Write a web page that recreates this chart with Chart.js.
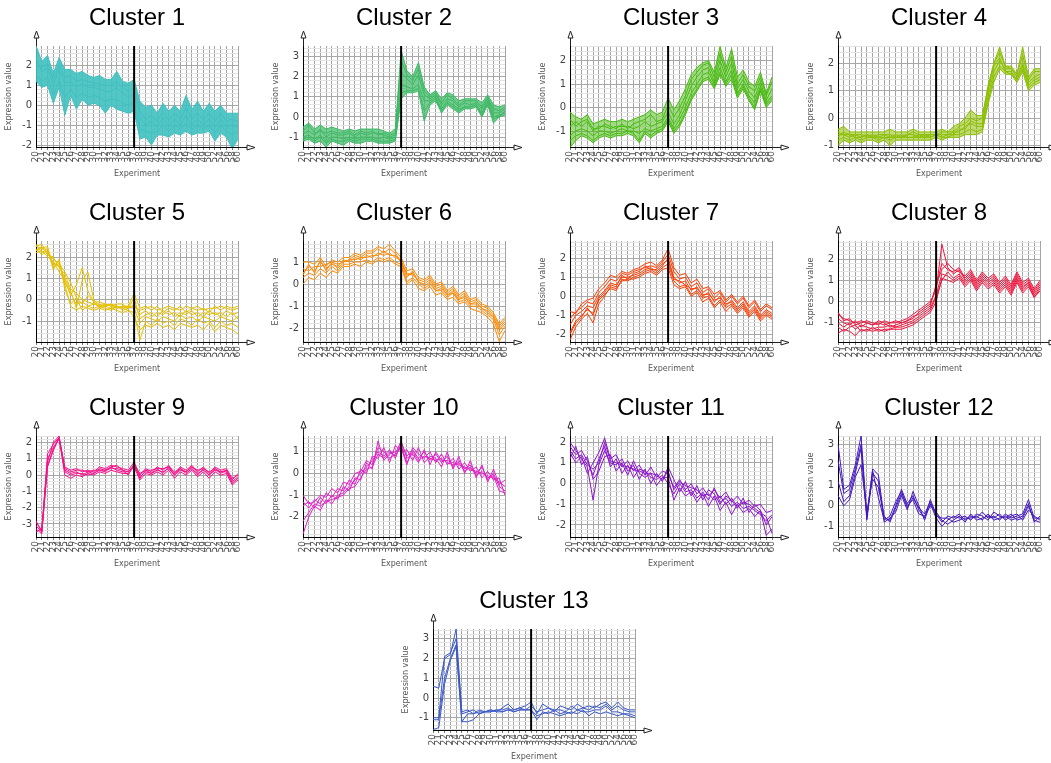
<!DOCTYPE html>
<html><head><meta charset="utf-8">
<script src="https://cdn.jsdelivr.net/npm/chart.js@4.4.0/dist/chart.umd.min.js"></script>
<style>
html,body{margin:0;padding:0;background:#fff;width:1051px;height:763px;overflow:hidden;}
.panel{position:absolute;}
</style></head><body>
<script>
// ---------- DATA ----------
const experimentLabels = ['20','21','22','23','24','25','26','27','28','29','30','31','32','33','34','35','36','37','38','39','40','41','42','43','44','45','46','47','48','49','50','52','54','56','58','60'];
const dividerLabel = '37';
const clusterTitles = ['Cluster 1','Cluster 2','Cluster 3','Cluster 4','Cluster 5','Cluster 6','Cluster 7','Cluster 8','Cluster 9','Cluster 10','Cluster 11','Cluster 12','Cluster 13'];
const clusterColors = ['#40c0c0','#3cb964','#46bb0e','#8cc000','#e6c000','#ff8a00','#ff3c00','#f0143c','#f5108a','#e020c8','#8c14cc','#4418c0','#3c5ac8'];
const yMin = [-2.1,-1.49,-1.68,-1.05,-1.98,-2.62,-2.4,-1.9,-3.8,-2.93,-2.58,-1.52,-1.62];
const yMax = [2.98,3.52,2.62,2.63,2.75,1.95,2.9,2.85,2.4,1.73,2.3,3.4,3.5];

const c1Upper = [3.0,2.2,2.5,1.6,2.4,1.8,1.8,1.6,1.7,1.5,1.4,1.5,1.3,1.3,1.7,1.2,1.1,1.3,0.2,-0.1,0.0,-0.4,0.1,-0.3,0.0,-0.3,0.5,-0.2,0.2,-0.3,0.1,-0.3,0.0,-0.4,-0.4,-0.4];
const c1Lower = [1.2,0.9,1.0,0.1,0.9,-0.5,0.5,-0.2,0.3,0.0,0.1,0.0,-0.4,0.0,-0.2,-0.3,-0.4,-0.3,-1.7,-1.6,-2.0,-1.5,-1.5,-1.6,-1.4,-1.5,-1.3,-1.5,-1.4,-1.4,-1.3,-1.8,-1.4,-1.6,-2.2,-1.7];
const c1Lines = [
 [2.4,1.7,1.9,1.0,1.8,1.1,1.2,0.9,1.1,0.9,0.9,0.8,0.7,0.7,0.9,0.6,0.4,0.6,-0.6,-1.0,-0.8,-1.1,-0.6,-1.1,-0.7,-1.0,-0.5,-1.0,-0.7,-1.0,-0.7,-1.1,-0.7,-1.1,-1.0,-1.1],
 [1.6,1.2,1.4,0.5,1.3,0.4,0.8,0.4,0.6,0.4,0.5,0.4,0.2,0.3,0.3,0.1,0.0,0.2,-1.2,-1.3,-1.4,-1.3,-1.0,-1.3,-1.0,-1.2,-0.9,-1.2,-1.0,-1.2,-1.0,-1.4,-1.0,-1.3,-1.5,-1.3],
 [2.0,1.9,2.1,1.3,2.0,1.4,1.5,1.2,1.3,1.2,1.1,1.1,1.0,1.0,1.2,0.9,0.7,0.9,-0.3,-0.7,-0.5,-0.8,-0.3,-0.8,-0.4,-0.7,-0.1,-0.7,-0.4,-0.7,-0.4,-0.8,-0.4,-0.8,-0.7,-0.8]
];

const c2Upper = [-0.5,-0.3,-0.6,-0.4,-0.6,-0.5,-0.6,-0.7,-0.6,-0.7,-0.6,-0.6,-0.6,-0.6,-0.7,-0.8,-0.6,3.3,2.3,2.0,2.7,1.5,1.1,1.3,0.9,1.2,1.1,0.8,0.9,0.9,0.9,0.7,1.1,0.6,0.5,0.6];
const c2Lower = [-1.2,-1.1,-1.3,-1.2,-1.5,-1.2,-1.3,-1.4,-1.2,-1.3,-1.3,-1.2,-1.2,-1.3,-1.3,-1.3,-1.2,0.9,1.2,1.2,1.3,-0.2,0.6,0.8,0.2,0.6,0.4,0.2,0.4,0.4,0.5,0.0,0.6,-0.3,0.0,0.1];
const c2Lines = [
 [-0.8,-0.7,-0.9,-0.6,-1.0,-0.8,-0.9,-0.9,-0.8,-1.0,-0.8,-0.9,-0.8,-0.8,-0.9,-1.0,-0.9,2.2,1.9,1.6,2.1,1.1,0.9,1.1,0.6,0.9,0.8,0.5,0.7,0.6,0.7,0.4,0.9,0.2,0.2,0.4],
 [-1.0,-0.9,-1.1,-0.9,-1.2,-1.0,-1.0,-1.1,-1.0,-1.1,-1.0,-1.0,-1.0,-1.1,-1.0,-1.1,-1.0,1.6,1.5,1.4,1.6,0.8,0.8,1.0,0.4,0.8,0.6,0.4,0.5,0.5,0.6,0.2,0.8,0.0,0.1,0.2],
 [-0.7,-0.4,-0.8,-0.7,-0.8,-0.7,-0.8,-0.8,-0.7,-0.9,-0.7,-0.8,-0.7,-0.9,-0.8,-0.9,-0.8,2.8,2.1,1.8,2.4,1.3,1.0,1.2,0.7,1.1,0.9,0.6,0.8,0.8,0.8,0.5,1.0,0.4,0.3,0.5],
 [-1.1,-1.0,-1.2,-1.0,-1.3,-1.1,-1.2,-1.2,-1.1,-1.2,-1.1,-1.1,-1.1,-1.2,-1.2,-1.2,-1.1,1.2,1.3,1.3,1.4,0.3,0.7,0.9,0.3,0.7,0.5,0.3,0.5,0.5,0.6,0.1,0.7,-0.1,0.0,0.3]
];

const c3Upper = [-0.2,-0.4,-0.5,-0.3,-0.7,-0.6,-0.5,-0.6,-0.6,-0.5,-0.6,-0.5,-0.4,-0.3,-0.1,-0.3,-0.2,0.4,-0.1,0.3,0.8,1.4,1.7,1.9,2.0,1.5,2.6,1.7,2.5,1.3,1.6,1.1,0.9,1.5,0.6,1.3];
const c3Lower = [-1.7,-1.4,-1.2,-1.3,-1.5,-1.3,-1.2,-1.3,-1.2,-1.2,-1.1,-1.2,-1.5,-1.1,-1.3,-1.1,-1.0,-0.6,-1.1,-0.8,-0.3,0.3,0.7,1.1,1.2,0.8,1.4,0.9,1.2,0.4,0.8,0.3,-0.1,0.7,0.0,0.3];
const c3Lines = [
 [-0.8,-0.6,-0.8,-0.6,-1.0,-0.8,-0.8,-0.9,-0.8,-0.8,-0.8,-0.9,-0.8,-0.6,-0.8,-0.7,-0.6,-0.2,-0.7,-0.3,0.3,0.9,1.3,1.6,1.7,1.1,2.0,1.3,1.9,0.8,1.2,0.7,0.4,1.1,0.3,0.8],
 [-1.2,-1.0,-0.9,-1.0,-1.2,-1.0,-1.0,-1.1,-1.0,-0.9,-1.0,-1.0,-1.1,-0.9,-1.0,-0.9,-0.8,-0.4,-0.9,-0.5,0.0,0.6,1.0,1.4,1.5,1.0,1.7,1.1,1.6,0.6,1.0,0.5,0.2,0.9,0.2,0.5],
 [-0.5,-0.8,-0.6,-0.5,-0.9,-0.9,-0.7,-0.8,-0.9,-0.7,-0.9,-0.7,-0.6,-0.5,-0.3,-0.6,-0.5,0.1,-0.4,0.0,0.5,1.2,1.5,1.8,1.9,1.3,2.3,1.5,2.2,1.0,1.4,0.9,0.7,1.3,0.5,1.1],
 [-1.4,-1.2,-1.1,-1.2,-1.4,-1.2,-1.1,-1.2,-1.1,-1.1,-1.0,-1.1,-1.4,-1.0,-1.2,-1.0,-0.9,-0.5,-1.0,-0.7,-0.2,0.4,0.8,1.2,1.3,0.9,1.5,1.0,1.4,0.5,0.9,0.4,0.0,0.8,0.1,0.4]
];

const c4Upper = [-0.4,-0.3,-0.5,-0.5,-0.5,-0.5,-0.5,-0.5,-0.5,-0.4,-0.5,-0.5,-0.5,-0.4,-0.5,-0.5,-0.5,-0.5,-0.4,-0.5,-0.3,-0.2,0.0,0.3,0.1,0.1,1.1,2.0,2.6,1.9,1.9,1.6,2.6,1.5,1.8,1.8];
const c4Lower = [-1.0,-0.8,-0.9,-0.8,-0.9,-0.8,-0.8,-0.9,-0.8,-1.0,-0.8,-0.8,-0.8,-0.8,-0.8,-0.8,-0.8,-0.7,-0.8,-0.7,-0.7,-0.7,-0.6,-0.6,-0.6,-0.5,0.5,1.3,1.8,1.6,1.6,1.3,1.7,1.0,1.2,1.3];
const c4Lines = [
 [-0.6,-0.6,-0.7,-0.6,-0.7,-0.6,-0.7,-0.7,-0.6,-0.7,-0.6,-0.7,-0.6,-0.6,-0.7,-0.6,-0.7,-0.6,-0.6,-0.6,-0.5,-0.5,-0.3,-0.2,-0.3,-0.3,0.8,1.7,2.1,1.8,1.8,1.5,2.0,1.3,1.5,1.6],
 [-0.7,-0.5,-0.6,-0.7,-0.8,-0.7,-0.6,-0.7,-0.7,-0.8,-0.7,-0.6,-0.7,-0.7,-0.6,-0.7,-0.6,-0.6,-0.7,-0.6,-0.6,-0.4,-0.4,-0.1,-0.2,-0.2,1.0,1.9,2.2,1.7,1.7,1.4,1.8,1.2,1.4,1.5],
 [-0.5,-0.6,-0.6,-0.6,-0.6,-0.7,-0.7,-0.6,-0.6,-0.6,-0.7,-0.7,-0.6,-0.5,-0.6,-0.6,-0.6,-0.6,-0.5,-0.5,-0.5,-0.3,-0.2,0.0,-0.1,0.0,1.2,2.0,2.4,1.9,1.8,1.6,2.3,1.4,1.7,1.7],
 [-0.8,-0.7,-0.8,-0.7,-0.7,-0.6,-0.7,-0.8,-0.7,-0.7,-0.7,-0.7,-0.7,-0.7,-0.7,-0.7,-0.7,-0.6,-0.7,-0.7,-0.6,-0.6,-0.5,-0.4,-0.5,-0.4,0.6,1.5,1.9,1.7,1.6,1.4,1.9,1.1,1.3,1.4]
];

const c5Lines = [
 [2.5,2.4,2.2,1.6,1.8,0.8,0.3,-0.2,-0.1,-0.3,-0.2,-0.3,-0.2,-0.3,-0.4,-0.3,-0.4,-0.2,-0.7,-0.5,-0.8,-0.6,-0.7,-0.5,-0.8,-0.6,-0.7,-0.5,-0.8,-0.6,-0.7,-0.6,-0.8,-0.5,-0.7,-0.6],
 [2.3,2.5,2.1,2.0,1.5,1.2,0.5,0.3,0.0,-0.1,-0.2,-0.2,-0.3,-0.2,-0.3,-0.4,-0.3,0.3,-0.4,-0.3,-0.5,-0.3,-0.6,-0.4,-0.5,-0.3,-0.6,-0.4,-0.5,-0.4,-0.6,-0.3,-0.5,-0.3,-0.4,-0.3],
 [2.6,2.2,2.4,1.4,1.9,0.5,-0.2,0.1,-0.5,-0.3,-0.4,-0.3,-0.4,-0.5,-0.3,-0.4,-0.5,-0.6,-1.9,-1.0,-1.2,-0.9,-1.1,-1.0,-1.2,-0.9,-1.0,-1.2,-0.9,-1.1,-1.0,-1.3,-1.0,-1.2,-1.1,-1.3],
 [2.2,2.3,2.0,1.8,1.3,0.9,0.2,0.7,1.5,0.4,-0.1,-0.1,-0.2,-0.3,-0.2,-0.2,-0.4,0.1,-0.9,-0.7,-0.6,-0.8,-0.5,-0.7,-0.6,-0.8,-0.5,-0.7,-0.6,-0.8,-0.5,-0.7,-0.6,-0.8,-0.6,-0.9],
 [2.4,2.1,2.3,1.7,1.6,1.0,0.4,-0.4,0.9,1.3,0.0,-0.3,-0.3,-0.2,-0.4,-0.3,-0.3,-0.4,-1.1,-0.8,-0.9,-1.0,-0.8,-0.9,-1.0,-0.7,-0.9,-0.8,-1.0,-0.8,-0.9,-1.0,-0.8,-0.9,-1.0,-0.8],
 [2.5,2.6,2.2,1.9,1.7,1.3,0.8,0.1,-0.2,0.2,-0.1,-0.4,-0.3,-0.4,-0.3,-0.5,-0.4,-0.3,-0.5,-0.4,-0.3,-0.5,-0.4,-0.3,-0.4,-0.5,-0.3,-0.4,-0.3,-0.5,-0.4,-0.4,-0.3,-0.4,-0.5,-0.4],
 [2.3,2.4,2.5,1.5,1.7,0.7,-0.3,-0.5,-0.3,-0.4,-0.5,-0.4,-0.5,-0.4,-0.5,-0.6,-0.5,-0.8,-1.4,-1.2,-1.3,-1.1,-1.3,-1.2,-1.4,-1.1,-1.2,-1.3,-1.2,-1.4,-1.1,-1.5,-1.2,-1.3,-1.4,-1.6]
];

const c6Lines = [
 [0.5,0.8,0.6,1.0,0.7,0.9,0.8,1.1,1.0,1.2,1.1,1.3,1.2,1.4,1.3,1.4,1.2,1.1,0.4,0.5,0.1,0.0,0.2,-0.2,-0.1,-0.5,-0.3,-0.7,-0.5,-0.9,-0.8,-1.1,-1.2,-1.5,-2.0,-1.7],
 [0.3,0.5,0.4,0.7,0.5,0.8,0.6,0.9,0.9,1.0,1.0,1.1,1.0,1.2,1.1,1.2,1.0,0.9,0.1,0.3,0.0,-0.2,0.0,-0.3,-0.3,-0.6,-0.4,-0.8,-0.7,-1.0,-1.0,-1.2,-1.4,-1.6,-2.3,-1.9],
 [1.0,1.0,0.9,1.2,0.8,1.1,1.0,1.2,1.2,1.4,1.3,1.5,1.5,1.7,1.6,1.8,1.5,1.2,0.6,0.7,0.3,0.2,0.4,0.0,0.1,-0.3,-0.1,-0.5,-0.3,-0.7,-0.6,-0.9,-1.0,-1.3,-1.8,-1.5],
 [0.0,0.3,0.2,0.5,0.3,0.6,0.5,0.8,0.8,0.9,0.8,1.0,0.9,1.1,1.0,1.1,0.9,0.8,0.0,0.2,-0.2,-0.3,-0.1,-0.5,-0.4,-0.7,-0.6,-0.9,-0.8,-1.1,-1.2,-1.3,-1.5,-1.8,-2.6,-2.1],
 [0.7,0.6,0.8,0.8,0.9,1.0,0.7,1.0,1.1,1.1,1.2,1.2,1.3,1.3,1.5,1.3,1.3,1.0,0.5,0.4,0.2,0.1,0.3,-0.1,0.0,-0.4,-0.2,-0.6,-0.4,-0.8,-0.7,-1.0,-1.1,-1.4,-1.9,-1.6],
 [0.4,0.9,0.5,1.1,0.6,1.0,0.9,1.0,1.1,1.3,1.2,1.4,1.4,1.6,1.4,1.6,1.4,1.0,0.3,0.6,0.1,-0.1,0.1,-0.3,-0.2,-0.5,-0.4,-0.7,-0.6,-0.9,-0.9,-1.1,-1.3,-1.5,-2.1,-1.8]
];

const c7Lines = [
 [-1.5,-1.0,-0.8,-0.5,-0.6,0.0,0.3,0.7,0.6,1.0,1.0,1.1,1.2,1.4,1.5,1.3,1.6,2.0,1.0,0.7,0.8,0.3,0.5,0.0,0.2,-0.3,0.0,-0.5,-0.2,-0.6,-0.3,-0.8,-0.5,-1.0,-0.7,-0.9],
 [-2.3,-1.6,-1.2,-0.9,-1.4,-0.4,0.0,0.5,0.4,0.8,0.9,0.9,1.0,1.2,1.3,1.1,1.4,1.5,0.6,0.4,0.5,0.0,0.2,-0.3,-0.1,-0.6,-0.3,-0.8,-0.5,-0.9,-0.6,-1.1,-0.8,-1.3,-1.0,-1.2],
 [-0.8,-0.9,-0.4,-0.2,-0.1,0.4,0.7,1.1,1.0,1.3,1.2,1.4,1.5,1.7,1.8,1.6,1.9,2.5,1.5,1.1,1.2,0.7,0.9,0.4,0.5,0.1,0.3,-0.2,0.1,-0.3,0.0,-0.5,-0.2,-0.7,-0.4,-0.6],
 [-1.9,-1.3,-1.0,-0.7,-0.9,-0.2,0.1,0.4,0.3,0.9,0.8,1.0,1.1,1.3,1.4,1.2,1.5,1.7,0.8,0.5,0.6,0.1,0.3,-0.1,0.0,-0.5,-0.2,-0.6,-0.4,-0.8,-0.5,-1.0,-0.7,-1.2,-0.9,-1.1],
 [-1.2,-0.8,-0.6,-0.3,-0.4,0.2,0.5,0.9,0.8,1.2,1.1,1.3,1.4,1.5,1.6,1.5,1.8,2.2,1.3,0.9,1.0,0.5,0.7,0.2,0.4,-0.1,0.2,-0.3,0.0,-0.4,-0.1,-0.6,-0.3,-0.8,-0.5,-0.7],
 [-2.0,-1.4,-1.1,-0.6,-1.0,-0.1,0.2,0.6,0.5,1.1,0.9,1.2,1.3,1.6,1.4,1.4,1.7,1.9,0.9,0.8,0.6,0.4,0.4,0.1,0.1,-0.2,-0.1,-0.4,-0.3,-0.7,-0.4,-0.9,-0.6,-1.1,-0.8,-1.0]
];

const c8Lines = [
 [-0.6,-0.8,-0.9,-1.0,-0.9,-1.0,-1.1,-1.0,-1.1,-1.0,-1.0,-0.9,-0.8,-0.6,-0.4,-0.2,0.0,0.5,2.7,1.6,1.3,1.5,1.0,1.3,0.8,1.2,0.9,1.1,0.7,1.0,0.6,1.2,0.7,0.9,0.4,0.8],
 [-1.0,-1.2,-1.0,-1.3,-1.1,-1.2,-1.3,-1.2,-1.2,-1.1,-1.2,-1.1,-1.0,-0.9,-0.7,-0.5,-0.3,0.3,1.3,1.2,1.0,1.2,0.8,1.1,0.6,1.0,0.7,0.9,0.5,0.8,0.4,1.0,0.5,0.8,0.2,0.6],
 [-1.5,-1.3,-1.4,-1.6,-1.3,-1.4,-1.2,-1.4,-1.3,-1.3,-1.2,-1.2,-1.1,-1.0,-0.8,-0.6,-0.4,0.2,1.0,1.4,1.1,1.3,0.9,1.2,0.7,1.1,0.8,1.0,0.6,0.9,0.5,1.1,0.6,0.9,0.3,0.7],
 [-0.8,-1.0,-1.1,-0.9,-1.2,-1.0,-1.1,-0.9,-1.0,-1.2,-1.1,-1.0,-0.9,-0.8,-0.5,-0.3,-0.1,0.7,1.8,1.5,1.4,1.6,1.1,1.4,0.9,1.3,1.0,1.2,0.8,1.1,0.7,1.3,0.8,1.0,0.5,0.9],
 [-1.2,-1.4,-1.2,-1.1,-1.4,-1.3,-1.4,-1.3,-1.4,-1.3,-1.3,-1.3,-1.2,-1.1,-0.9,-0.7,-0.5,0.0,1.1,1.0,0.9,1.1,0.7,1.0,0.5,0.9,0.6,0.8,0.4,0.7,0.3,0.9,0.4,0.7,0.2,0.5],
 [-0.5,-0.9,-0.8,-1.1,-1.0,-0.9,-1.0,-1.1,-0.9,-1.0,-0.9,-1.0,-0.9,-0.7,-0.6,-0.4,-0.2,0.8,1.5,1.8,1.5,1.4,1.2,1.5,1.0,1.4,1.1,1.3,0.9,1.2,0.8,1.4,0.9,1.1,0.6,1.0]
];

const c9Lines = [
 [-2.8,-3.5,1.3,1.9,2.3,0.5,0.3,0.4,0.2,0.3,0.2,0.5,0.4,0.6,0.5,0.4,0.3,0.8,0.0,0.4,0.2,0.5,0.3,0.6,0.1,0.5,0.3,0.6,0.2,0.5,0.1,0.5,0.3,0.4,-0.2,0.0],
 [-3.3,-3.6,0.5,1.5,2.3,0.0,-0.2,0.0,-0.1,0.1,0.0,0.2,0.1,0.3,0.2,0.1,0.1,0.5,-0.3,0.1,0.0,0.2,0.0,0.3,-0.2,0.2,0.0,0.3,-0.1,0.2,-0.2,0.2,0.0,0.1,-0.6,-0.3],
 [-3.5,-3.3,0.8,2.0,2.4,0.3,0.1,0.2,0.0,0.2,0.1,0.3,0.2,0.5,0.3,0.2,0.2,0.6,-0.1,0.2,0.1,0.4,0.1,0.5,0.0,0.4,0.1,0.4,0.0,0.4,0.0,0.4,0.1,0.3,-0.4,-0.1],
 [-2.9,-3.4,1.0,1.7,2.2,0.2,0.0,0.1,0.1,0.0,0.1,0.4,0.3,0.4,0.4,0.3,0.0,0.7,-0.2,0.3,0.1,0.3,0.2,0.4,0.0,0.3,0.2,0.5,0.1,0.3,0.0,0.3,0.2,0.2,-0.5,-0.2],
 [-3.1,-3.5,0.6,1.6,2.3,0.4,0.2,0.3,0.3,0.2,0.3,0.3,0.3,0.5,0.6,0.3,0.2,0.6,0.1,0.3,0.3,0.4,0.4,0.5,0.2,0.4,0.2,0.5,0.3,0.4,0.2,0.4,0.2,0.3,-0.3,0.1]
];

const c10Lines = [
 [-2.8,-2.0,-1.5,-1.7,-1.2,-1.4,-1.0,-0.9,-0.6,-0.3,0.0,0.3,0.6,1.0,0.8,1.1,0.7,1.4,0.8,1.1,0.7,1.0,0.6,0.9,0.5,0.8,0.3,0.6,0.2,0.4,0.0,0.3,-0.3,0.0,-0.6,-0.8],
 [-1.5,-1.3,-1.6,-1.1,-1.4,-1.0,-1.2,-0.6,-0.8,-0.2,-0.3,0.5,0.2,1.5,0.6,0.9,1.0,1.2,0.4,1.2,0.9,0.7,1.0,0.5,0.9,0.4,0.7,0.2,0.5,0.1,0.3,-0.2,0.1,-0.3,-0.2,-1.0],
 [-1.3,-1.6,-1.2,-1.4,-0.9,-1.1,-0.7,-0.8,-0.3,-0.5,0.2,0.0,0.8,0.7,1.2,0.5,1.3,1.0,1.1,0.6,1.2,0.5,0.8,0.7,0.3,1.0,0.2,0.8,0.0,0.6,-0.2,0.4,-0.4,0.2,-0.5,-0.3],
 [-1.0,-1.4,-1.3,-1.0,-1.1,-0.7,-0.9,-0.4,-0.5,0.0,0.1,0.6,0.4,1.2,1.0,0.7,0.9,1.5,0.7,0.9,0.5,1.1,0.4,1.0,0.6,0.6,0.5,0.4,0.3,0.2,0.1,0.0,-0.1,-0.2,-0.4,-0.6],
 [-2.2,-1.8,-1.4,-1.5,-1.3,-1.2,-1.1,-1.0,-0.7,-0.6,-0.2,0.2,0.3,0.9,0.7,1.0,0.8,1.3,0.5,1.0,0.6,0.8,0.7,0.6,0.7,0.5,0.4,0.5,0.1,0.3,-0.1,0.1,-0.2,-0.1,-0.8,-0.9]
];

const c11Lines = [
 [1.5,1.0,1.3,0.5,1.0,1.5,2.2,1.2,1.4,0.8,1.1,0.6,0.9,0.4,0.8,0.3,0.6,0.5,-0.2,0.2,-0.3,0.0,-0.5,-0.2,-0.6,-0.3,-0.7,-0.4,-0.9,-0.6,-1.0,-0.8,-1.1,-1.0,-1.4,-1.3],
 [2.0,1.6,1.2,0.8,-0.8,0.9,1.6,1.0,0.9,1.2,0.6,0.9,0.2,0.7,0.0,0.5,0.1,0.8,0.2,-0.4,0.1,-0.6,-0.1,-0.8,-0.3,-0.5,-1.0,-0.6,-0.8,-1.2,-0.7,-1.4,-1.0,-1.3,-2.5,-2.2],
 [1.8,1.4,1.6,1.1,0.4,1.2,1.8,0.8,1.2,0.5,0.9,0.3,0.7,0.6,0.3,0.2,0.4,0.0,-0.5,0.0,-0.4,-0.3,-0.7,-0.4,-0.8,-0.2,-0.9,-0.7,-1.1,-0.9,-1.2,-1.1,-1.3,-1.5,-1.8,-1.5],
 [1.2,1.8,0.9,1.3,0.2,0.6,1.3,1.4,0.6,1.0,0.4,1.1,0.5,0.3,0.5,-0.1,0.3,0.3,-0.8,-0.2,-0.6,-0.4,-0.9,-0.5,-1.1,-0.6,-1.3,-0.9,-1.5,-1.0,-1.4,-1.2,-1.6,-1.3,-2.0,-1.6],
 [1.6,1.2,1.4,0.9,0.7,1.0,2.0,1.1,1.0,0.9,0.8,0.7,0.6,0.5,0.5,0.4,0.2,0.6,-0.3,0.1,-0.1,-0.2,-0.3,-0.6,-0.5,-0.8,-0.6,-1.0,-0.7,-1.1,-0.9,-1.0,-1.2,-1.4,-1.6,-2.4]
];

const c12Lines = [
 [3.0,0.8,1.0,2.0,3.4,-0.5,1.8,1.5,-0.6,-0.7,0.0,0.8,0.1,0.5,-0.2,-0.6,0.3,-0.4,-0.8,-0.5,-0.6,-0.4,-0.7,-0.5,-0.6,-0.3,-0.6,-0.5,-0.7,-0.4,-0.6,-0.5,-0.4,0.3,-0.6,-0.6],
 [1.2,0.2,0.5,1.6,2.8,-0.7,1.6,1.2,-0.8,-0.6,-0.3,0.5,-0.2,0.7,0.0,-0.7,0.1,-0.6,-1.0,-0.7,-0.5,-0.6,-0.5,-0.7,-0.4,-0.5,-0.7,-0.3,-0.5,-0.6,-0.4,-0.7,-0.6,0.0,-0.7,-0.8],
 [0.5,0.0,0.3,1.4,2.0,-0.3,1.3,0.9,-0.5,-0.8,-0.1,0.6,0.0,0.3,-0.4,-0.5,0.0,-0.3,-0.7,-0.9,-0.7,-0.5,-0.8,-0.4,-0.7,-0.6,-0.5,-0.6,-0.4,-0.7,-0.5,-0.4,-0.7,-0.2,-0.5,-0.7],
 [2.2,0.6,0.8,1.8,3.0,-0.6,1.7,0.4,-0.7,-0.5,0.2,0.7,-0.1,0.4,-0.1,-0.4,0.2,-0.5,-0.6,-0.6,-0.8,-0.7,-0.6,-0.6,-0.5,-0.7,-0.4,-0.7,-0.6,-0.5,-0.7,-0.6,-0.5,0.1,-0.8,-0.5]
];

const c13Lines = [
 [0.6,0.5,2.0,2.2,3.5,-0.8,-0.7,-0.6,-0.8,-0.7,-0.6,-0.7,-0.5,-0.3,-0.6,-0.5,-0.4,-0.2,-0.8,-0.3,-0.5,-0.7,-0.4,-0.5,-0.6,-0.3,-0.5,-0.4,-0.5,-0.3,-0.2,-0.5,-0.2,-0.5,-0.6,-0.6],
 [-1.0,-1.0,2.1,2.3,3.0,-0.7,-0.6,-0.8,-0.6,-0.7,-0.7,-0.6,-0.6,-0.5,-0.7,-0.6,-0.6,-0.4,-0.7,-0.6,-0.5,-0.6,-0.6,-0.7,-0.4,-0.6,-0.5,-0.6,-0.4,-0.5,-0.3,-0.6,-0.4,-0.6,-0.7,-0.7],
 [-1.1,-1.1,1.0,2.0,2.7,-1.2,-1.2,-1.1,-0.8,-0.7,-0.7,-0.6,-0.7,-0.6,-0.6,-0.5,-0.6,-0.6,-1.1,-0.7,-0.8,-0.6,-0.8,-0.7,-0.8,-0.6,-0.7,-0.7,-0.6,-0.6,-0.4,-0.7,-0.7,-0.8,-0.8,-0.9],
 [-1.6,-1.5,0.7,1.9,2.6,-1.2,-0.8,-0.8,-0.7,-0.7,-0.6,-0.7,-0.7,-0.6,-0.7,-0.6,-0.6,-0.6,-0.9,-0.8,-0.7,-0.8,-0.9,-0.8,-0.7,-0.8,-0.6,-0.9,-0.7,-0.8,-0.7,-0.8,-0.9,-0.8,-0.9,-1.0]
];

const clusterLines = [c1Lines,c2Lines,c3Lines,c4Lines,c5Lines,c6Lines,c7Lines,c8Lines,c9Lines,c10Lines,c11Lines,c12Lines,c13Lines];
const clusterBands = [[c1Upper,c1Lower,0.9],[c2Upper,c2Lower,0.7],[c3Upper,c3Lower,0.5],[c4Upper,c4Lower,0.55],null,null,null,null,null,null,null,null,null];

// ---------- LAYOUT ----------
const plotLeft = [36,303,570,838,36,303,570,838,36,303,570,838,433];
const plotTop  = [46,46,46,46,241,241,241,241,436,436,436,436,629];
const YAXIS_W = 34, TITLE_H = 46, PLOT_H = 101, XAXIS_H = 34, PLOT_W = 202, RIGHT_PAD = 24;

Chart.defaults.animation = false;
Chart.defaults.font.family = 'DejaVu Sans';

function hexA(hex, a){
  const n = parseInt(hex.slice(1),16);
  return `rgba(${(n>>16)&255},${(n>>8)&255},${n&255},${a})`;
}
const isInt = v => Math.abs(v - Math.round(v)) < 1e-6;

const decoPlugin = {
  id:'deco',
  afterDatasetsDraw(chart){
    const {ctx, chartArea:{top,bottom}} = chart;
    const x = chart.scales.x.getPixelForValue(experimentLabels.indexOf(dividerLabel));
    ctx.save();
    ctx.strokeStyle = '#000'; ctx.lineWidth = 2;
    ctx.beginPath(); ctx.moveTo(x, top); ctx.lineTo(x, bottom); ctx.stroke();
    ctx.restore();
  },
  afterDraw(chart){
    const {ctx, chartArea:{left,top,right,bottom}} = chart;
    ctx.save();
    ctx.strokeStyle = '#222'; ctx.lineWidth = 1;
    const lx = Math.round(left) + 0.5, by = Math.round(bottom) + 0.5;
    ctx.beginPath(); ctx.moveTo(lx, top); ctx.lineTo(lx, top - 8); ctx.stroke();
    ctx.beginPath(); ctx.moveTo(lx, top - 15); ctx.lineTo(lx - 2.5, top - 8); ctx.lineTo(lx + 2.5, top - 8); ctx.closePath(); ctx.stroke();
    ctx.beginPath(); ctx.moveTo(right, by); ctx.lineTo(right + 9, by); ctx.stroke();
    ctx.beginPath(); ctx.moveTo(right + 17, by); ctx.lineTo(right + 9, by - 2.5); ctx.lineTo(right + 9, by + 2.5); ctx.closePath(); ctx.stroke();
    ctx.restore();
  }
};

clusterTitles.forEach((title, i) => {
  const canvas = document.createElement('canvas');
  const W = YAXIS_W + PLOT_W + RIGHT_PAD, H = TITLE_H + PLOT_H + XAXIS_H;
  canvas.width = W; canvas.height = H;
  canvas.className = 'panel';
  canvas.style.left = (plotLeft[i] - YAXIS_W) + 'px';
  canvas.style.top = (plotTop[i] - TITLE_H) + 'px';
  canvas.style.width = W + 'px'; canvas.style.height = H + 'px';
  document.body.appendChild(canvas);

  const color = clusterColors[i];
  const datasets = [];
  const band = clusterBands[i];
  if (band) {
    datasets.push({data: band[0], borderColor: color, borderWidth: 1, pointRadius: 0, tension: 0, fill: '+1', backgroundColor: hexA(color, band[2])});
    datasets.push({data: band[1], borderColor: color, borderWidth: 1, pointRadius: 0, tension: 0, fill: false});
  }
  clusterLines[i].forEach(line => {
    datasets.push({data: line, borderColor: color, borderWidth: 1, pointRadius: 0, tension: 0, fill: false});
  });

  new Chart(canvas, {
    type: 'line',
    data: {labels: experimentLabels, datasets},
    options: {
      responsive: false, maintainAspectRatio: false, animation: false, events: [],
      layout: {padding: {left: 0, right: RIGHT_PAD, top: 0, bottom: 0}},
      plugins: {
        legend: {display: false}, tooltip: {enabled: false},
        title: {display: true, text: title, fullSize: false, color: '#000',
          font: {family: 'Liberation Sans', size: 24, weight: 'normal'},
          padding: {top: 4, bottom: TITLE_H - 4 - 28.8}}
      },
      scales: {
        x: {
          type: 'category',
          afterFit(s){ s.height = XAXIS_H; },
          border: {display: true, color: '#000', width: 1},
          grid: {color: '#a4a4a4', lineWidth: 1, drawTicks: true, tickLength: 3, tickColor: '#777'},
          ticks: {autoSkip: false, maxRotation: 90, minRotation: 90, padding: 1, color: '#555', font: {family: 'DejaVu Sans', size: 9}},
          title: {display: true, text: 'Experiment', color: '#555', font: {family: 'DejaVu Sans', size: 8}, padding: {top: 0, bottom: 2}}
        },
        y: {
          min: yMin[i], max: yMax[i],
          afterFit(s){ s.width = YAXIS_W; },
          border: {display: true, color: '#000', width: 1},
          grid: {color: c => isInt(c.tick.value) ? '#a8a8a8' : '#e4e4e4', lineWidth: 1, drawTicks: false},
          ticks: {stepSize: 0.2, includeBounds: false, autoSkip: false, padding: 4, color: '#444', font: {family: 'DejaVu Sans', size: 10},
            callback: v => isInt(v) ? String(Math.round(v)) : ''},
          title: {display: true, text: 'Expression value', color: '#555', font: {family: 'DejaVu Sans', size: 8}, padding: {top: 2, bottom: 0}}
        }
      }
    },
    plugins: [decoPlugin]
  });
});
</script>
</body></html>
